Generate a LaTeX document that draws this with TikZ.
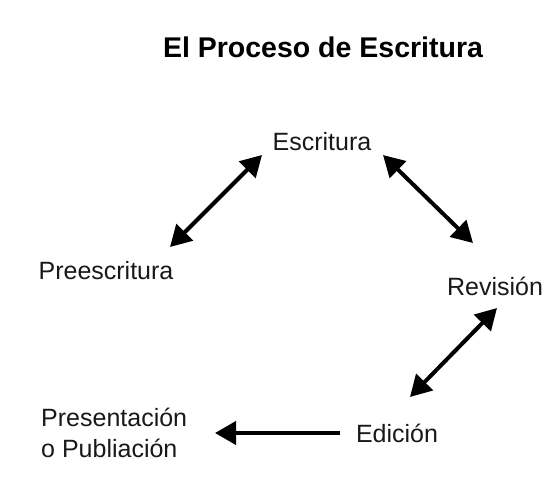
\documentclass[tikz,border=0pt]{standalone}
\usepackage{fontspec}
\setmainfont{Liberation Sans}
\usetikzlibrary{arrows.meta}
\begin{document}
\begin{tikzpicture}[x=1pt,y=-1pt,
  lbl/.style={font=\fontsize{25}{31}\selectfont, inner sep=0pt, text=black!90},
  ttl/.style={font=\fontsize{28.5}{32}\selectfont\bfseries, inner sep=0pt},
  conn/.style={line width=4pt, -{Triangle[length=21pt,width=23pt]}},
  dconn/.style={line width=4pt, {Triangle[length=21pt,width=23pt]}-{Triangle[length=21pt,width=23pt]}}]
\path[use as bounding box, fill=white] (0,0) rectangle (560,480);
\node[ttl] (title) at (323,47) {El Proceso de Escritura};
\node[lbl] (esc) at (322,142) {Escritura};
\node[lbl] (pre) at (106,271) {Preescritura};
\node[lbl] (rev) at (495,286) {Revisión};
\node[lbl] (edi) at (397,433) {Edición};
\node[lbl, anchor=west, align=left] (pub) at (41,433) {Presentación\\o Publiación};
\coordinate (a1s) at (262,155);
\coordinate (a1e) at (170,247);
\coordinate (a2s) at (383,155);
\coordinate (a2e) at (473,243);
\coordinate (a3s) at (497,308);
\coordinate (a3e) at (410,397);
\coordinate (a4s) at (340,433);
\coordinate (a4e) at (215,433);
\draw[dconn] (a1s) -- (a1e);
\draw[dconn] (a2s) -- (a2e);
\draw[dconn] (a3s) -- (a3e);
\draw[conn] (a4s) -- (a4e);
\end{tikzpicture}
\end{document}
